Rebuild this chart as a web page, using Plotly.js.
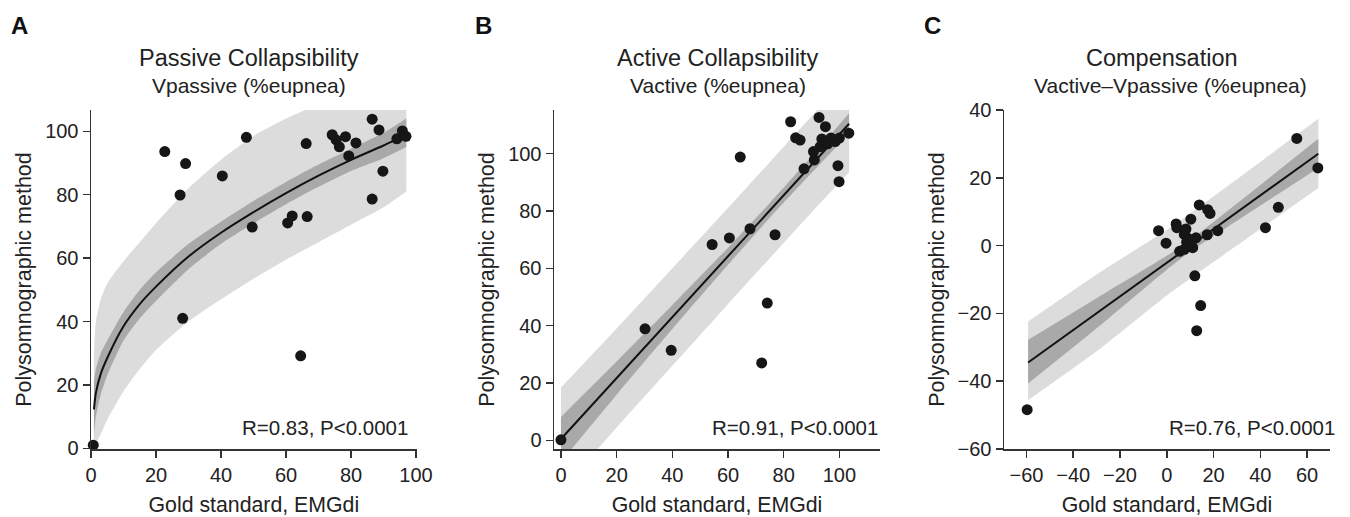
<!DOCTYPE html>
<html>
<head>
<meta charset="utf-8">
<script src="https://cdn.plot.ly/plotly-3.0.1.min.js"></script>
<style>html,body{margin:0;padding:0;background:#fff;}#chart{width:1350px;height:517px;}</style>
</head>
<body>
<div id="chart"></div>
<script>
// ---------- Panel A: Passive collapsibility ----------
const passiveX = [22.7, 29.1, 27.4, 40.4, 47.8, 49.6, 66.2, 60.5, 61.9, 66.5, 74.2, 75.4, 76.4, 78.3, 81.5, 79.3, 86.5, 88.6, 89.8, 86.5, 94.1, 95.8, 96.9, 28.2, 64.5, 0.7];
const passiveY = [93.6, 89.8, 79.9, 85.9, 98.1, 69.8, 96.1, 71.1, 73.3, 73.1, 98.9, 97.3, 95.1, 98.3, 96.3, 92.2, 103.8, 100.4, 87.4, 78.6, 97.6, 100.1, 98.4, 41.0, 29.2, 1.0];
const passiveFitX   = [0.9, 1.5, 3, 5, 10, 15, 20, 30, 40, 50, 60, 70, 80, 90, 97];
const passiveFitY   = [12.3, 17.5, 23.5, 28.5, 38.5, 45.5, 51, 60.5, 68, 74.5, 80.5, 86, 91, 95.5, 99];
const passivePredHi = [30, 40, 47, 52, 59, 65, 71, 82, 91, 98.5, 104, 108.5, 113, 117, 120];
const passivePredLo = [0.5, 1.5, 4.5, 9, 18, 25, 31, 40, 47, 53.5, 59.5, 65, 70.5, 76, 81];
const passiveConfHi = [21, 25, 30, 34, 43, 50, 55.5, 64.5, 71.5, 78, 84, 89.5, 94.5, 99.5, 104];
const passiveConfLo = [4, 10, 17, 23, 34, 41, 46.5, 56.5, 64.5, 71, 77, 82.5, 87.5, 91.5, 95];

// ---------- Panel B: Active collapsibility ----------
const activeX = [82.5, 92.7, 95.0, 84.3, 85.9, 93.7, 93.1, 97.0, 95.8, 98.5, 100.0, 103.4, 90.7, 91.0, 87.3, 99.5, 99.9, 64.4, 67.9, 60.5, 54.3, 76.9, 30.2, 39.6, 74.1, 72.1, 0.0];
const activeY = [111.1, 112.6, 109.4, 105.5, 104.7, 105.1, 102.4, 105.4, 103.4, 104.2, 105.4, 107.1, 100.7, 97.8, 94.7, 95.8, 90.2, 98.8, 73.8, 70.6, 68.3, 71.7, 38.9, 31.4, 47.9, 27.0, 0.2];
const activeFitX   = [0, 103.5];
const activeFitY   = [0.5, 110.4];
const activeBandX  = [0, 20, 40, 60, 75, 90, 103.5];
const activePredHi = [18.4, 39, 60, 81, 97, 113, 127.5];
const activePredLo = [-17.5, 4.5, 26, 47.5, 63.5, 79.5, 93.5];
const activeConfHi = [8.2, 27.5, 47.2, 67.2, 82.8, 99, 114.1];
const activeConfLo = [-7.5, 15.9, 38.8, 61.2, 77.6, 93.2, 107.0];

// ---------- Panel C: Compensation ----------
const compX = [55.6, 64.6, 47.7, 42.2, 13.9, 17.5, 18.5, 10.3, 21.8, 17.3, 12.5, -3.5, -0.3, 4.0, 4.3, 8.2, 7.5, 9.0, 11.1, 5.5, 7.5, 10.5, 12.0, 14.5, 12.8, -59.7, 8.5];
const compY = [31.6, 22.9, 11.3, 5.3, 12.0, 10.6, 9.5, 7.8, 4.4, 3.2, 2.3, 4.4, 0.7, 6.4, 5.3, 4.9, 3.3, 2.2, -0.6, -1.7, -1.1, 1.2, -8.9, -17.7, -25.1, -48.4, 1.0];
const compFitX   = [-59.3, 64.8];
const compFitY   = [-34.5, 27.1];
const compBandX  = [-59.3, -30, 0, 10, 30, 64.8];
const compPredHi = [-22.4, -8.5, 4.6, 9.5, 19.6, 37.4];
const compPredLo = [-45.6, -31.2, -14.7, -9.7, 0, 17.0];
const compConfHi = [-27.8, -15.5, -3.0, 1.6, 12.4, 31.5];
const compConfLo = [-40.7, -24.4, -7.1, -1.8, 7.3, 22.9];

// ---------- Text ----------
const panelLetters = ['A', 'B', 'C'];
const panelTitles = ['Passive Collapsibility', 'Active Collapsibility', 'Compensation'];
const panelSubtitles = ['Vpassive (%eupnea)', 'Vactive (%eupnea)', 'Vactive\u2013Vpassive (%eupnea)'];
const statLabels = ['R=0.83, P<0.0001', 'R=0.91, P<0.0001', 'R=0.76, P<0.0001'];
const xTitle = 'Gold standard, EMGdi';
const yTitle = 'Polysomnographic method';

const W = 1350, H = 517;
const px = v => v / W;
const py = v => 1 - v / H;
const FONT = '"Liberation Sans", Arial, Helvetica, sans-serif';
const TXT = '#222222';
const LIGHT = '#dcdcdc', DARK = '#a9a9a9';

function bandTraces(xa, ya, bx, lo, hi, color) {
  return [
    {x: bx, y: lo, xaxis: xa, yaxis: ya, mode: 'lines', line: {width: 0, color: color, shape: 'spline', smoothing: 0.6}, hoverinfo: 'skip', showlegend: false},
    {x: bx, y: hi, xaxis: xa, yaxis: ya, mode: 'lines', fill: 'tonexty', fillcolor: color, line: {width: 0, color: color, shape: 'spline', smoothing: 0.6}, hoverinfo: 'skip', showlegend: false}
  ];
}
function fitTrace(xa, ya, fx, fy) {
  return {x: fx, y: fy, xaxis: xa, yaxis: ya, mode: 'lines', line: {color: '#111', width: 2, shape: 'spline', smoothing: 0.6}, hoverinfo: 'skip', showlegend: false};
}
function pointTrace(xa, ya, x, y) {
  return {x: x, y: y, xaxis: xa, yaxis: ya, mode: 'markers', type: 'scatter', marker: {size: 11, color: '#161616', line: {width: 0}}, showlegend: false, cliponaxis: false};
}

const data = [].concat(
  bandTraces('x', 'y', passiveFitX, passivePredLo, passivePredHi, LIGHT),
  bandTraces('x', 'y', passiveFitX, passiveConfLo, passiveConfHi, DARK),
  [fitTrace('x', 'y', passiveFitX, passiveFitY), pointTrace('x', 'y', passiveX, passiveY)],
  bandTraces('x2', 'y2', activeBandX, activePredLo, activePredHi, LIGHT),
  bandTraces('x2', 'y2', activeBandX, activeConfLo, activeConfHi, DARK),
  [fitTrace('x2', 'y2', activeFitX, activeFitY), pointTrace('x2', 'y2', activeX, activeY)],
  bandTraces('x3', 'y3', compBandX, compPredLo, compPredHi, LIGHT),
  bandTraces('x3', 'y3', compBandX, compConfLo, compConfHi, DARK),
  [fitTrace('x3', 'y3', compFitX, compFitY), pointTrace('x3', 'y3', compX, compY)]
);

function xax(domain, range, tickvals, anchor) {
  return {domain: domain, range: range, anchor: anchor, tickvals: tickvals, ticks: 'outside', ticklen: 7, tickwidth: 1.5, tickcolor: '#333',
    showline: true, linecolor: '#333', linewidth: 1.5, showgrid: false, zeroline: false, automargin: false,
    tickfont: {family: FONT, size: 20, color: TXT},
    title: {text: xTitle, font: {family: FONT, size: 21.3, color: TXT}, standoff: 13}};
}
function yax(domain, range, tickvals, anchor) {
  return {domain: domain, range: range, anchor: anchor, tickvals: tickvals, ticks: 'outside', ticklen: 7, tickwidth: 1.5, tickcolor: '#333',
    showline: true, linecolor: '#333', linewidth: 1.5, showgrid: false, zeroline: false, automargin: false,
    tickfont: {family: FONT, size: 20, color: TXT},
    title: {text: yTitle, font: {family: FONT, size: 21.5, color: TXT}, standoff: 7}};
}
const yDom = [py(449), py(110)];
const layout = {
  width: W, height: H, margin: {l: 0, r: 0, t: 0, b: 0},
  paper_bgcolor: '#fff', plot_bgcolor: '#fff', showlegend: false,
  font: {family: FONT, color: TXT},
  xaxis:  xax([px(91), px(416.7)], [0, 100.2], [0, 20, 40, 60, 80, 100], 'y'),
  yaxis:  yax(yDom, [-0.2, 106.7], [0, 20, 40, 60, 80, 100], 'x'),
  xaxis2: xax([px(554), px(880)], [-2.5, 114.6], [0, 20, 40, 60, 80, 100], 'y2'),
  yaxis2: yax(yDom, [-3, 115.2], [0, 20, 40, 60, 80, 100], 'x2'),
  xaxis3: xax([px(1004), px(1330)], [-69.6, 69.8], [-60, -40, -20, 0, 20, 40, 60], 'y3'),
  yaxis3: yax(yDom, [-60, 40], [-60, -40, -20, 0, 20, 40], 'x3'),
  annotations: []
};
const letterX = [9, 473, 922];
const titleX = [249.3, 717, 1161.5];
const subX = [248.7, 717.5, 1170];
const statRight = [410, 880, 1336.7];
for (let i = 0; i < 3; i++) {
  layout.annotations.push({xref: 'paper', yref: 'paper', x: px(letterX[i]), y: py(25.5), xanchor: 'left', yanchor: 'middle', showarrow: false,
    text: '<b>' + panelLetters[i] + '</b>', font: {family: FONT, size: 24, color: '#111'}});
  layout.annotations.push({xref: 'paper', yref: 'paper', x: px(titleX[i]), y: py(58), xanchor: 'center', yanchor: 'middle', showarrow: false,
    text: panelTitles[i], font: {family: FONT, size: 23.5, color: TXT}});
  layout.annotations.push({xref: 'paper', yref: 'paper', x: px(subX[i]), y: py(86), xanchor: 'center', yanchor: 'middle', showarrow: false,
    text: panelSubtitles[i], font: {family: FONT, size: 21, color: TXT}});
  layout.annotations.push({xref: 'paper', yref: 'paper', x: px(statRight[i]), y: py(427), xanchor: 'right', yanchor: 'middle', showarrow: false,
    text: statLabels[i], font: {family: FONT, size: 20.5, color: TXT}});
}
Plotly.newPlot('chart', data, layout, {displayModeBar: false, staticPlot: true});
</script>
</body>
</html>
